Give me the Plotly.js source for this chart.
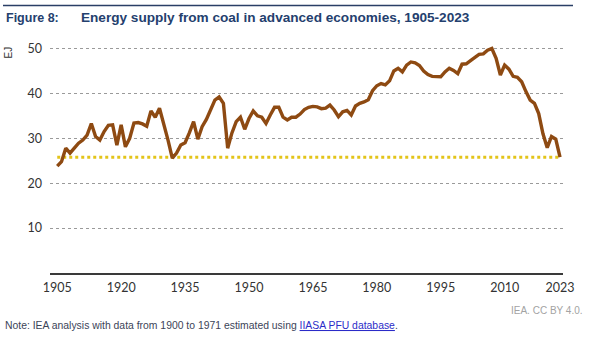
<!DOCTYPE html>
<html>
<head>
<meta charset="utf-8">
<script src="https://cdn.plot.ly/plotly-3.0.1.min.js"></script>
<style>html,body{margin:0;padding:0;background:#fff;}#chart{width:608px;height:339px;}</style>
</head>
<body>
<div id="chart"></div>
<script>
// ---- data ----
const startYear = 1905;
const coalEJ = [
  23.8, 24.8, 27.8, 26.7, 27.8, 28.9, 29.6, 30.7, 33.3, 30.4, // 1905-1914
  29.6, 31.5, 32.9, 33.0, 28.5, 33.0, 28.1, 30.0, 33.4, 33.5, // 1915-1924
  33.2, 32.7, 36.1, 34.7, 36.7, 33.4, 29.6, 25.6, 26.7, 28.5, // 1925-1934
  29.0, 31.2, 33.7, 29.8, 32.6, 34.2, 36.3, 38.5, 39.2, 37.8, // 1935-1944
  27.8, 31.2, 33.7, 34.7, 32.0, 34.4, 36.1, 35.0, 34.7, 33.3, // 1945-1954
  35.2, 36.9, 36.9, 34.7, 34.1, 34.7, 34.7, 35.4, 36.4, 36.9, // 1955-1964
  37.1, 37.0, 36.6, 36.7, 37.4, 36.3, 34.8, 35.9, 36.2, 35.2, // 1965-1974
  37.2, 37.8, 38.1, 38.6, 40.6, 41.7, 42.2, 41.9, 42.8, 45.0, // 1975-1984
  45.6, 44.8, 46.3, 47.0, 46.8, 46.2, 45.0, 44.2, 43.8, 43.7, // 1985-1994
  43.7, 44.8, 45.6, 45.1, 44.4, 46.5, 46.6, 47.3, 48.1, 48.7, // 1995-2004
  48.8, 49.6, 50.0, 47.8, 44.1, 46.3, 45.4, 43.8, 43.6, 42.6, // 2005-2014
  40.4, 38.5, 37.8, 35.5, 31.0, 27.9, 30.4, 29.8, 25.8        // 2015-2023
];
const years = coalEJ.map((_, i) => startYear + i);
const xTickVals = [1905, 1920, 1935, 1950, 1965, 1980, 1995, 2010, 2023];
const xTickText = ["1905", "1920", "1935", "1950", "1965", "1980", "1995", "2010", "2023"];
const yTickVals = [10, 20, 30, 40, 50];
const levelYears = [years[0], years[years.length - 1]];
const levelValues = [coalEJ[coalEJ.length - 1], coalEJ[coalEJ.length - 1]];

const titleLabel = "Figure 8:";
const titleText = "Energy supply from coal in advanced economies, 1905-2023";
const yUnit = "EJ";
const sourceText = "IEA. CC BY 4.0.";
const noteText = 'Note: IEA analysis with data from 1900 to 1971 estimated using <span style="color:#2B2BC8;text-decoration:underline">IIASA PFU database</span>.';

// ---- layout geometry ----
const W = 608, H = 339;
const M = {l: 50, r: 45, t: 43.5, b: 66};
const PW = W - M.l - M.r, PH = H - M.t - M.b;
const px = x => (x - M.l) / PW;
const py = y => (H - M.b - y) / PH;

const traces = [
  {
    x: levelYears, y: levelValues, type: 'scatter', mode: 'lines',
    line: {color: '#E3C41A', width: 3, dash: 'dot'}, hoverinfo: 'skip'
  },
  {
    x: years, y: coalEJ, type: 'scatter', mode: 'lines',
    line: {color: '#8E4A12', width: 3.4, shape: 'linear'}
  }
];

const layout = {
  width: W, height: H,
  margin: M,
  paper_bgcolor: '#ffffff', plot_bgcolor: '#ffffff',
  showlegend: false,
  font: {family: 'Lato, "Liberation Sans", sans-serif', color: '#333333', size: 12},
  xaxis: {
    range: [1903.3, 2023.7],
    tickmode: 'array', tickvals: xTickVals, ticktext: xTickText,
    showgrid: false, zeroline: false,
    showline: true, linecolor: '#3a3a3a', linewidth: 1.5,
    ticks: '', ticklabelstandoff: 2, tickfont: {size: 12.5, color: '#333333'},
    fixedrange: true
  },
  yaxis: {
    range: [0, 51],
    tickmode: 'array', tickvals: yTickVals,
    showgrid: true, gridcolor: '#9a9a9a', gridwidth: 1, griddash: 'dot',
    zeroline: false, showline: false,
    ticks: '', ticklabelstandoff: 7, tickfont: {size: 12.5, color: '#333333'},
    fixedrange: true
  },
  shapes: [
    {type: 'line', xref: 'paper', yref: 'paper', x0: px(3), x1: px(573), y0: py(5), y1: py(5),
     line: {color: '#2A3F66', width: 1.5}}
  ],
  annotations: [
    {text: '<b>' + titleLabel + '</b>', xref: 'paper', yref: 'paper', x: px(4), y: py(17),
     xanchor: 'left', yanchor: 'middle', showarrow: false,
     font: {family: '"Liberation Sans", Arial, sans-serif', size: 12.5, color: '#24406E'}},
    {text: '<b>' + titleText + '</b>', xref: 'paper', yref: 'paper', x: px(79), y: py(17),
     xanchor: 'left', yanchor: 'middle', showarrow: false,
     font: {family: '"Liberation Sans", Arial, sans-serif', size: 13.6, color: '#24406E'}},
    {text: yUnit, xref: 'paper', yref: 'paper', x: px(8), y: py(52),
     xanchor: 'center', yanchor: 'middle', showarrow: false, textangle: -90,
     font: {family: '"Liberation Sans", Arial, sans-serif', size: 10, color: '#333333'}},
    {text: sourceText, xref: 'paper', yref: 'paper', x: px(585), y: py(311),
     xanchor: 'right', yanchor: 'middle', showarrow: false,
     font: {family: '"Liberation Sans", Arial, sans-serif', size: 10, color: '#A3A3A3'}},
    {text: noteText, xref: 'paper', yref: 'paper', x: px(3), y: py(326),
     xanchor: 'left', yanchor: 'middle', showarrow: false,
     font: {family: '"Liberation Sans", Arial, sans-serif', size: 10.4, color: '#3C4458'}}
  ]
};

Plotly.newPlot('chart', traces, layout, {staticPlot: true, displayModeBar: false});
</script>
</body>
</html>
